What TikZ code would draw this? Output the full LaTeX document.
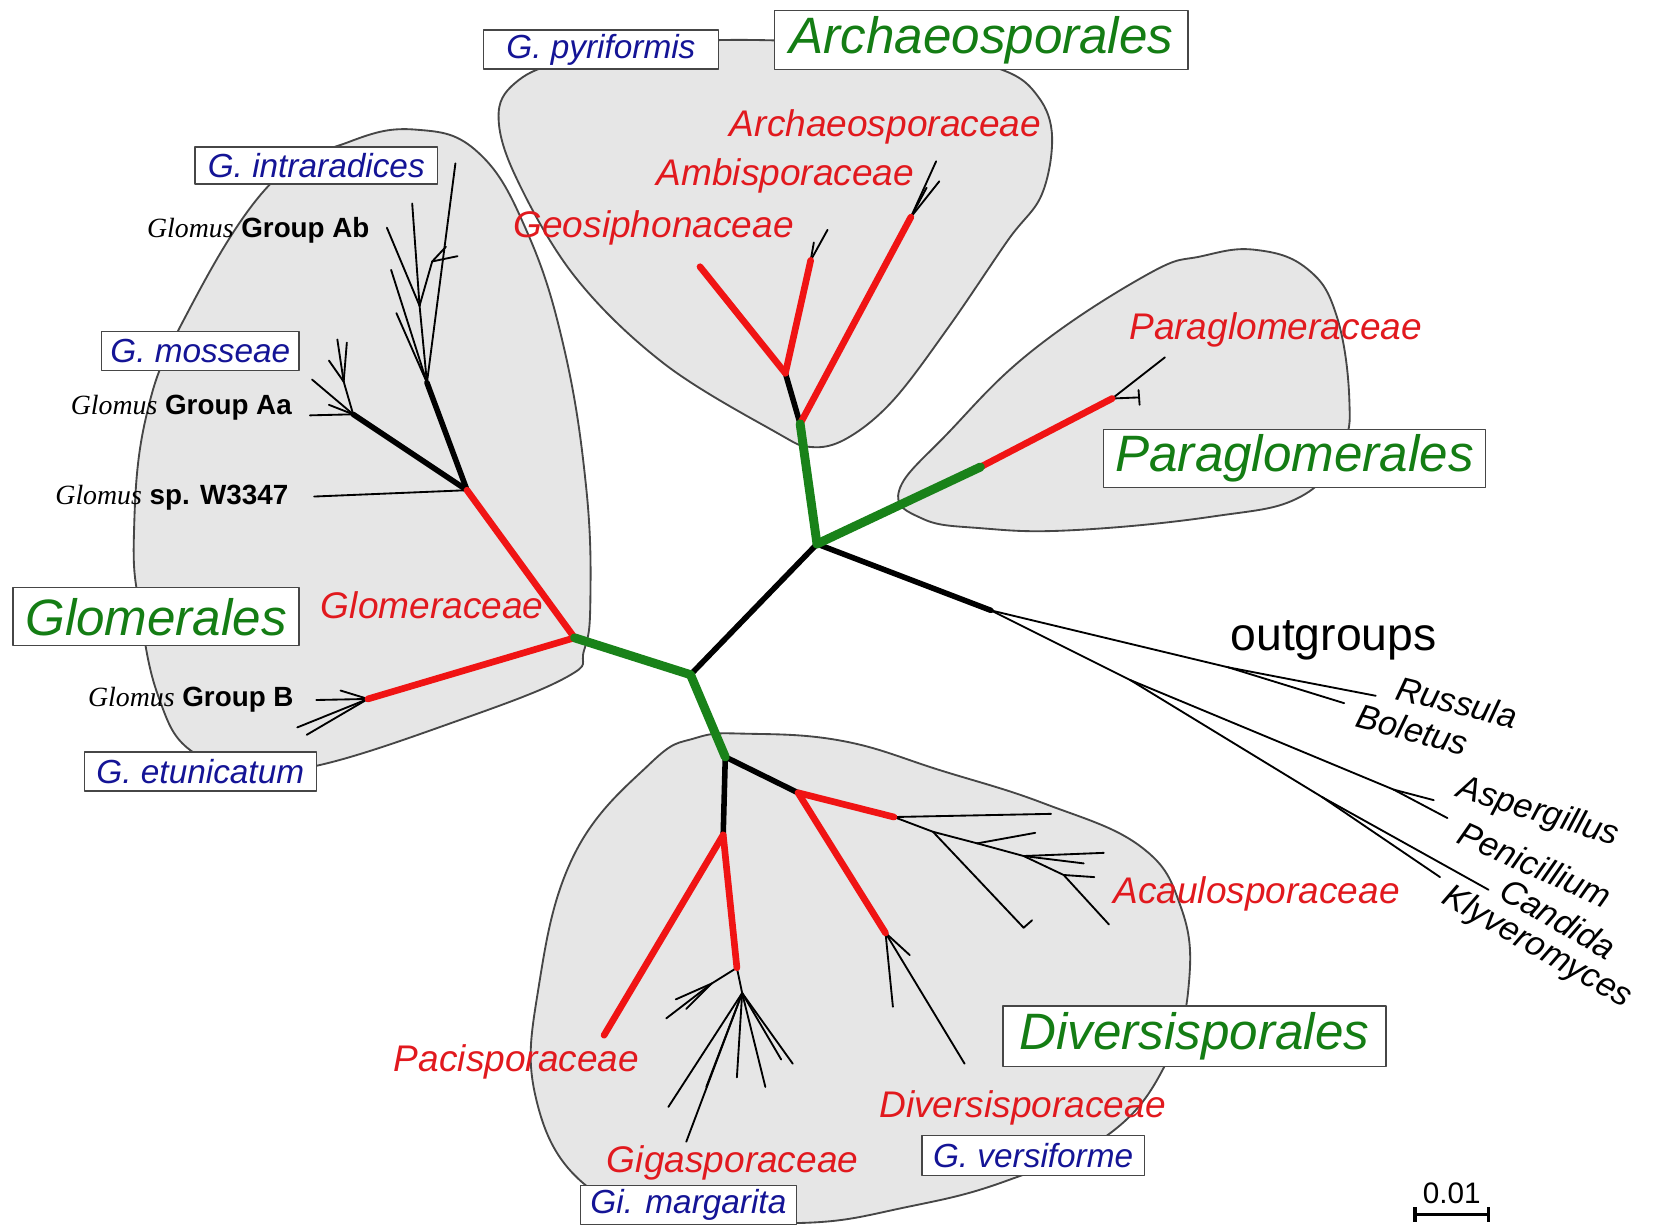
\documentclass[tikz,border=0pt]{standalone}
\usepackage{fontspec}
\setmainfont{Liberation Sans}
\newfontfamily\glomfont{Liberation Serif}

\definecolor{hullgray}{RGB}{230,230,230}
\definecolor{hulledge}{RGB}{70,70,70}
\definecolor{brgreen}{RGB}{25,130,25}
\definecolor{brred}{RGB}{240,20,20}
\definecolor{ordgreen}{RGB}{20,125,20}
\definecolor{spblue}{RGB}{20,20,150}
\definecolor{famred}{RGB}{225,25,30}

\tikzset{
  hull/.style={fill=hullgray, draw=hulledge, line width=0.5pt},
  stem/.style={draw=brgreen, line width=2.4pt},
  fam/.style={draw=brred, line width=1.8pt},
  trunk/.style={draw=black, line width=1.5pt},
  twig/.style={draw=black, line width=0.5pt},
  order/.style={draw=hulledge, fill=white, text=ordgreen, inner sep=0pt,
    font=\fontsize{13.8}{15}\selectfont\itshape},
  species/.style={draw=hulledge, fill=white, text=spblue, inner sep=0pt,
    font=\fontsize{9}{10}\selectfont\itshape},
  family/.style={text=famred, inner sep=0pt, font=\fontsize{10}{12}\selectfont\itshape},
  taxon/.style={inner sep=0pt, font=\fontsize{7.5}{9}\selectfont},
  outgrp/.style={inner sep=0pt, font=\fontsize{9.2}{10}\selectfont\itshape}
}

\begin{document}
\begin{tikzpicture}[x=0.01cm, y=-0.01cm, line cap=round, line join=round]
  \useasboundingbox (0,0) rectangle (1568,1163);

  % grey hulls of the four orders
  \draw[hull] plot[smooth cycle, tension=0.7] coordinates {(395,123) (454,145) (500,220) (535,330) (556,462) (560,570) (554,617) (538,642) (436,683) (302,726) (240,727) (181,712) (150,660) (133,580) (127,509) (138,398) (174,304) (254,177) (330,135)};
  \draw[hull] plot[smooth cycle, tension=0.6] coordinates {(473,107) (492,76) (535,58) (620,42) (720,38) (860,46) (950,66) (985,92) (998,130) (988,185) (956,228) (900,310) (847,380) (803,416) (769,424) (736,410) (630,345) (545,262) (488,165)};
  \draw[hull] plot[smooth cycle, tension=0.7] coordinates {(853,465) (875,492) (930,501) (1016,503) (1150,490) (1234,471) (1272,425) (1280,380) (1268,300) (1240,255) (1191,237) (1140,243) (1089,260) (980,332) (900,410)};
  \draw[hull] plot[smooth cycle, tension=0.7] coordinates {(709,696) (800,703) (893,731) (990,762) (1082,803) (1120,860) (1128,930) (1108,1005) (1053,1075) (955,1120) (860,1145) (762,1160) (640,1152) (554,1123) (508,1040) (511,936) (545,810) (617,724) (660,700)};

  % backbone
  \coordinate (c0) at (655,640);
  \coordinate (c1) at (775,516);
  \coordinate (gl) at (545,605);
  \coordinate (dv) at (688,718);
  \coordinate (ar) at (759,402);
  \coordinate (pg) at (930,443);
  \coordinate (og) at (940,579);

  % Glomerales
  \coordinate (ga) at (443,465);
  \coordinate (gb) at (349,663);
  \coordinate (gab) at (405,363);
  \coordinate (gaa) at (335,393);
  \coordinate (w3347) at (298,471);
  \coordinate (ab1) at (432,155);
  \coordinate (abm) at (398,290);
  \coordinate (ab2) at (367,216);
  \coordinate (ab3) at (391,193);
  \coordinate (abf) at (410,248);
  \coordinate (ab4) at (434,243);
  \coordinate (ab5) at (423,234);
  \coordinate (ab6) at (371,256);
  \coordinate (ab7) at (376,297);
  \coordinate (aa1) at (294,394);
  \coordinate (aam) at (326,362);
  \coordinate (aa2) at (320,322);
  \coordinate (aa3) at (329,325);
  \coordinate (aa4) at (312,342);
  \coordinate (aa5) at (296,360);
  \coordinate (aa6) at (312,384);
  \coordinate (b1) at (300,664);
  \coordinate (b2) at (282,690);
  \coordinate (b3) at (291,697);
  \coordinate (b4) at (323,655);

  % Archaeosporales
  \coordinate (geo) at (745,354);
  \coordinate (gs) at (664,253);
  \coordinate (amb) at (769,247);
  \coordinate (am1) at (785,218);
  \coordinate (am2) at (772,230);
  \coordinate (arch) at (864,206);
  \coordinate (ac1) at (888,153);
  \coordinate (ac2) at (891,172);
  \coordinate (ac3) at (879,178);

  % Paraglomerales
  \coordinate (pr) at (1055,378);
  \coordinate (pr1) at (1105,339);
  \coordinate (pr2) at (1080,377);
  \coordinate (pr3) at (1080,370);
  \coordinate (pr4) at (1081,384);

  % outgroups
  \coordinate (rb) at (1165,633);
  \coordinate (rus) at (1305,660);
  \coordinate (bol) at (1275,667);
  \coordinate (ak) at (1072,645);
  \coordinate (ap) at (1322,749);
  \coordinate (asp) at (1360,759);
  \coordinate (pen) at (1373,776);
  \coordinate (ck) at (1254,756);
  \coordinate (can) at (1412,844);
  \coordinate (kly) at (1366,832);

  % Diversisporales
  \coordinate (gg) at (686,792);
  \coordinate (da) at (757,752);
  \coordinate (pac) at (573,982);
  \coordinate (gig) at (699,918);
  \coordinate (aca) at (848,775);
  \coordinate (dvs) at (840,885);
  \coordinate (a1) at (997,772);
  \coordinate (n2) at (885,789);
  \coordinate (a3) at (971,880);
  \coordinate (a3b) at (979,873);
  \coordinate (n3) at (927,800);
  \coordinate (a4) at (982,790);
  \coordinate (n4) at (971,812);
  \coordinate (a5) at (1047,809);
  \coordinate (a6) at (1028,819);
  \coordinate (n5) at (1009,830);
  \coordinate (a7) at (1038,832);
  \coordinate (a8) at (1052,877);
  \coordinate (d1) at (915,1009);
  \coordinate (d2) at (847,955);
  \coordinate (d3) at (863,906);
  \coordinate (gm1) at (675,933);
  \coordinate (g1) at (632,966);
  \coordinate (g1b) at (641,948);
  \coordinate (g1c) at (651,957);
  \coordinate (gm2) at (704,942);
  \coordinate (g2) at (752,1009);
  \coordinate (g3) at (741,1005);
  \coordinate (g4) at (726,1031);
  \coordinate (g5) at (651,1083);
  \coordinate (g6) at (634,1050);
  \coordinate (g7) at (670,1031);
  \coordinate (g8) at (699,1022);

  % thin tips
  \draw[twig] (gab) -- (ab1);
  \draw[twig] (gab) -- (abm);
  \draw[twig] (abm) -- (ab2);
  \draw[twig] (abm) -- (ab3);
  \draw[twig] (abm) -- (abf);
  \draw[twig] (abf) -- (ab4);
  \draw[twig] (abf) -- (ab5);
  \draw[twig] (gab) -- (ab6);
  \draw[twig] (gab) -- (ab7);
  \draw[twig] (gaa) -- (aa1);
  \draw[twig] (gaa) -- (aam);
  \draw[twig] (aam) -- (aa2);
  \draw[twig] (aam) -- (aa3);
  \draw[twig] (aam) -- (aa4);
  \draw[twig] (gaa) -- (aa5);
  \draw[twig] (gaa) -- (aa6);
  \draw[twig] (ga) -- (w3347);
  \draw[twig] (gb) -- (b1);
  \draw[twig] (gb) -- (b2);
  \draw[twig] (gb) -- (b3);
  \draw[twig] (gb) -- (b4);
  \draw[twig] (amb) -- (am1);
  \draw[twig] (amb) -- (am2);
  \draw[twig] (arch) -- (ac1);
  \draw[twig] (arch) -- (ac2);
  \draw[twig] (arch) -- (ac3);
  \draw[twig] (pr) -- (pr1);
  \draw[twig] (pr) -- (pr2);
  \draw[twig] (pr3) -- (pr4);
  \draw[twig] (og) -- (rb);
  \draw[twig] (rb) -- (rus);
  \draw[twig] (rb) -- (bol);
  \draw[twig] (og) -- (ak);
  \draw[twig] (ak) -- (ap);
  \draw[twig] (ap) -- (asp);
  \draw[twig] (ap) -- (pen);
  \draw[twig] (ak) -- (ck);
  \draw[twig] (ck) -- (can);
  \draw[twig] (ck) -- (kly);
  \draw[twig] (aca) -- (a1);
  \draw[twig] (aca) -- (n2);
  \draw[twig] (n2) -- (a3);
  \draw[twig] (a3) -- (a3b);
  \draw[twig] (n2) -- (n3);
  \draw[twig] (n3) -- (a4);
  \draw[twig] (n3) -- (n4);
  \draw[twig] (n4) -- (a5);
  \draw[twig] (n4) -- (a6);
  \draw[twig] (n4) -- (n5);
  \draw[twig] (n5) -- (a7);
  \draw[twig] (n5) -- (a8);
  \draw[twig] (dvs) -- (d1);
  \draw[twig] (dvs) -- (d2);
  \draw[twig] (dvs) -- (d3);
  \draw[twig] (gig) -- (gm1);
  \draw[twig] (gm1) -- (g1);
  \draw[twig] (gm1) -- (g1b);
  \draw[twig] (gm1) -- (g1c);
  \draw[twig] (gig) -- (gm2);
  \draw[twig] (gm2) -- (g2);
  \draw[twig] (gm2) -- (g3);
  \draw[twig] (gm2) -- (g4);
  \draw[twig] (gm2) -- (g5);
  \draw[twig] (gm2) -- (g6);
  \draw[twig] (gm2) -- (g7);
  \draw[twig] (gm2) -- (g8);

  % thick branches
  \draw[trunk] (c0) -- (c1);
  \draw[trunk] (c1) -- (og);
  \draw[trunk] (ga) -- (gab);
  \draw[trunk] (ga) -- (gaa);
  \draw[trunk] (ar) -- (geo);
  \draw[trunk] (dv) -- (gg);
  \draw[trunk] (dv) -- (da);
  \draw[fam] (gl) -- (ga);
  \draw[fam] (gl) -- (gb);
  \draw[fam] (ar) -- (arch);
  \draw[fam] (geo) -- (gs);
  \draw[fam] (geo) -- (amb);
  \draw[fam] (pg) -- (pr);
  \draw[fam] (gg) -- (pac);
  \draw[fam] (gg) -- (gig);
  \draw[fam] (da) -- (aca);
  \draw[fam] (da) -- (dvs);
  \draw[stem] (c0) -- (gl);
  \draw[stem] (c0) -- (dv);
  \draw[stem] (c1) -- (ar);
  \draw[stem] (c1) -- (pg);

  % labels
  \node[taxon] (labAb) at (245,218) {{\glomfont\itshape Glomus} \bfseries Group Ab};
  \node[taxon] (labAa) at (172,387) {{\glomfont\itshape Glomus} \bfseries Group Aa};
  \node[taxon] (labW) at (163,472) {{\glomfont\itshape Glomus} \bfseries sp. W3347};
  \node[taxon] (labB) at (181,664) {{\glomfont\itshape Glomus} \bfseries Group B};

  \node[species, minimum width=2.30cm, minimum height=0.35cm] (intra) at (300,157) {G. intraradices};
  \node[species, minimum width=1.87cm, minimum height=0.37cm] (moss) at (190,333) {G. mosseae};
  \node[species, minimum width=2.20cm, minimum height=0.37cm] (etun) at (190,732) {G. etunicatum};
  \node[species, minimum width=2.23cm, minimum height=0.37cm] (pyri) at (570,47) {G. pyriformis};
  \node[species, minimum width=2.11cm, minimum height=0.38cm] (vers) at (980,1096) {G. versiforme};
  \node[species, minimum width=2.05cm, minimum height=0.37cm] (marg) at (653,1143) {Gi. margarita};

  \node[order, minimum width=3.92cm, minimum height=0.56cm] (archo) at (931,38) {Archaeosporales};
  \node[order, minimum width=3.62cm, minimum height=0.55cm] (parao) at (1228,435) {Paraglomerales};
  \node[order, minimum width=2.71cm, minimum height=0.55cm] (glomo) at (148,585) {Glomerales};
  \node[order, minimum width=3.63cm, minimum height=0.57cm] (divo) at (1133,983) {Diversisporales};

  \node[family] (farch) at (840,120) {Archaeosporaceae};
  \node[family] (famb) at (745,167) {Ambisporaceae};
  \node[family] (fgeo) at (620,216) {Geosiphonaceae};
  \node[family] (fpara) at (1210,313) {Paraglomeraceae};
  \node[family] (fglom) at (410,574) {Glomeraceae};
  \node[family] (facau) at (1192,848) {Acaulosporaceae};
  \node[family] (fpaci) at (490,1007) {Pacisporaceae};
  \node[family] (fgiga) at (695,1103) {Gigasporaceae};
  \node[family] (fdiv) at (970,1051) {Diversisporaceae};

  \node[inner sep=0pt, font=\fontsize{12.5}{14}\selectfont] (outg) at (1265,607) {outgroups};
  \node[outgrp, rotate=-14] (lrus) at (1382,666) {Russula};
  \node[outgrp, rotate=-15] (lbol) at (1340,692) {Boletus};
  \node[outgrp, rotate=-17] (lasp) at (1459,771) {Aspergillus};
  \node[outgrp, rotate=-24] (lpen) at (1456,820) {Penicillium};
  \node[outgrp, rotate=-30] (lcan) at (1478,871) {Candida};
  \node[outgrp, rotate=-30] (lkly) at (1458,899) {Klyveromyces};

  % scale bar
  \coordinate (sb1) at (1342,1152);
  \coordinate (sb2) at (1412,1152);
  \draw[line width=1pt, line cap=butt] (sb1) -- (sb2);
  \draw[line width=1pt, line cap=butt] ([yshift=-0.07cm]sb1) -- ([yshift=0.07cm]sb1);
  \draw[line width=1pt, line cap=butt] ([yshift=-0.07cm]sb2) -- ([yshift=0.07cm]sb2);
  \node[inner sep=0pt, font=\fontsize{8}{9}\selectfont] (sbl) at (1377,1132) {0.01};
\end{tikzpicture}
\end{document}
